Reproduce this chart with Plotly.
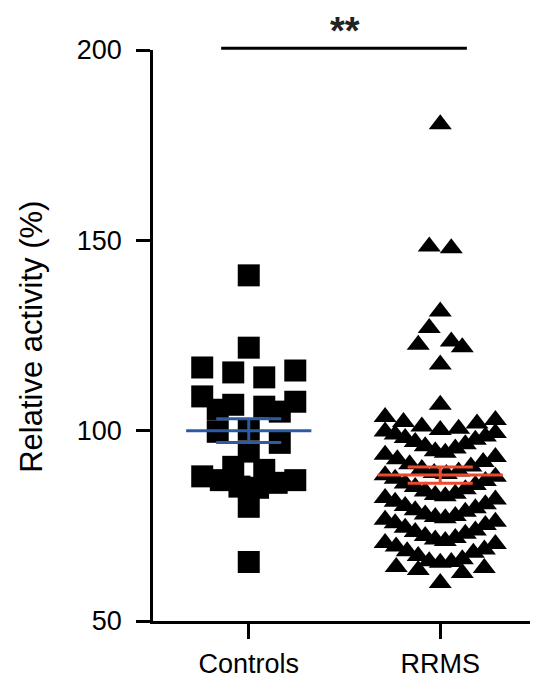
import numpy as np
import plotly.graph_objects as go

# ---------------- data ----------------
categories = ["Controls", "RRMS"]

controls_values = [
    140.8, 121.8, 116.6, 115.3, 114.0, 115.8, 106.8, 105.0, 109.0, 105.5,
    106.3, 107.6, 100.3, 99.7, 94.5, 96.8, 87.0, 86.3, 89.7, 85.0,
    90.5, 85.3, 87.0, 88.0, 80.0, 65.5,
]

rrms_values = [
    180.5, 148.4, 147.9, 131.3, 127.0, 123.4, 122.6, 121.9, 117.4, 106.8,
    103.6, 102.8, 102.3, 101.9, 101.1,
    100.5, 100.2, 99.8, 99.4, 99.0, 98.5, 98.1, 97.6, 97.0, 96.4, 95.9, 95.3,
    94.6, 94.2, 93.7, 93.1, 92.5, 91.8, 91.2, 90.6, 89.9, 89.3,
    88.9, 88.6, 88.3, 87.9, 87.4, 86.8, 86.1, 85.7, 85.2, 84.6, 84.0, 83.4,
    83.1, 82.8, 82.3, 81.9, 81.3, 80.7, 80.2, 79.6, 79.1, 78.7, 78.0, 77.6,
    77.3, 77.0, 76.6, 76.1, 75.7, 75.2, 74.5, 73.8, 73.4, 72.9, 72.3, 71.8,
    71.4, 71.0, 70.5, 70.2, 69.6, 68.8, 68.3, 67.9, 67.1, 66.2,
    65.7, 65.5, 65.3, 64.2, 63.9, 63.4, 62.6, 60.0,
]

group_values = [controls_values, rrms_values]
mean_colors = ["#2c5ba6", "#ec4a2e"]
marker_symbols = ["square", "triangle-up"]
marker_sizes = [22, 20]
row_half_width = [0.243, 0.288]   # max half width of a row of points (category units)
max_spacing = [0.162, 0.115]      # widest horizontal spacing between points in a row

y_ticks = [50, 100, 150, 200]
significance = "**"

FONT = "Arial, Liberation Sans, Helvetica, sans-serif"

BIN_ORIGIN = 53.5     # start of the row grid (value units)
BIN_HEIGHT = 5.8      # row height (value units) ~ symbol size


def column_layout(values, half_width, max_sp):
    """GraphPad-like column scatter: bin values into rows and spread each row."""
    rows = {}
    for v in values:
        rows.setdefault(int((v - BIN_ORIGIN) // BIN_HEIGHT), []).append(v)
    xs, ys = [], []
    for _, vs in sorted(rows.items()):
        k = len(vs)
        spacing = max_sp if k < 2 else min(max_sp, 2 * half_width / (k - 1))
        slots = [(i - (k - 1) / 2) * spacing for i in range(k)]
        slots.sort(key=lambda s: (-abs(s), s))
        for v, s in zip(sorted(vs, reverse=True), slots):
            xs.append(s)
            ys.append(v)
    return xs, ys


fig = go.Figure()

for gi, vals in enumerate(group_values):
    offs, ys = column_layout(vals, row_half_width[gi], max_spacing[gi])
    fig.add_trace(go.Scatter(
        x=[gi + o for o in offs], y=ys, mode="markers",
        marker=dict(symbol=marker_symbols[gi], size=marker_sizes[gi],
                    color="black", line=dict(width=0)),
        cliponaxis=False, showlegend=False, hoverinfo="y",
    ))

for gi, vals in enumerate(group_values):
    arr = np.array(vals)
    m = arr.mean()
    sem = arr.std(ddof=1) / np.sqrt(len(arr))
    hw, cw = 0.327, 0.17
    xs = [gi - hw, gi + hw, None, gi, gi, None,
          gi - cw, gi + cw, None, gi - cw, gi + cw]
    ys = [m, m, None, m - sem, m + sem, None,
          m + sem, m + sem, None, m - sem, m - sem]
    fig.add_trace(go.Scatter(
        x=xs, y=ys, mode="lines",
        line=dict(color=mean_colors[gi], width=3),
        showlegend=False, hoverinfo="skip",
    ))

# significance bar
fig.add_shape(type="line", xref="x", yref="paper",
              x0=-0.144, x1=1.139, y0=1.003, y1=1.003,
              line=dict(color="black", width=3))
fig.add_annotation(x=0.5, xref="x", xanchor="center",
                   y=1.0, yref="paper", yanchor="bottom", yshift=-4,
                   text=f"<b>{significance}</b>", showarrow=False,
                   font=dict(family=FONT, size=38, color="#222"))

# y-axis title
fig.add_annotation(x=-0.317, xref="paper", xanchor="center",
                   y=0.497, yref="paper", yanchor="middle",
                   text="Relative activity (%)", textangle=-90, showarrow=False,
                   font=dict(family=FONT, size=31, color="black"))

fig.update_xaxes(
    range=[-0.5, 1.5], tickvals=[0, 1], ticktext=categories,
    showline=True, linecolor="black", linewidth=2.5,
    ticks="outside", ticklen=15, tickwidth=2.5, tickcolor="black",
    tickfont=dict(family=FONT, size=27, color="black"),
    ticklabelstandoff=2, automargin=False,
    showgrid=False, zeroline=False,
)
fig.update_yaxes(
    range=[50, 200], tickvals=y_ticks,
    showline=True, linecolor="black", linewidth=2.5,
    ticks="outside", ticklen=14, tickwidth=2.5, tickcolor="black",
    tickfont=dict(family=FONT, size=27, color="black"),
    ticklabelstandoff=9, automargin=False,
    showgrid=False, zeroline=False,
)
# the page body has an 8px margin, so the figure is sized to fit the window
fig.update_layout(
    width=530, height=672,
    margin=dict(l=145, r=2, t=42, b=59, autoexpand=False),
    plot_bgcolor="white", paper_bgcolor="white",
    font=dict(family=FONT),
)

fig.write_html("out.html")
